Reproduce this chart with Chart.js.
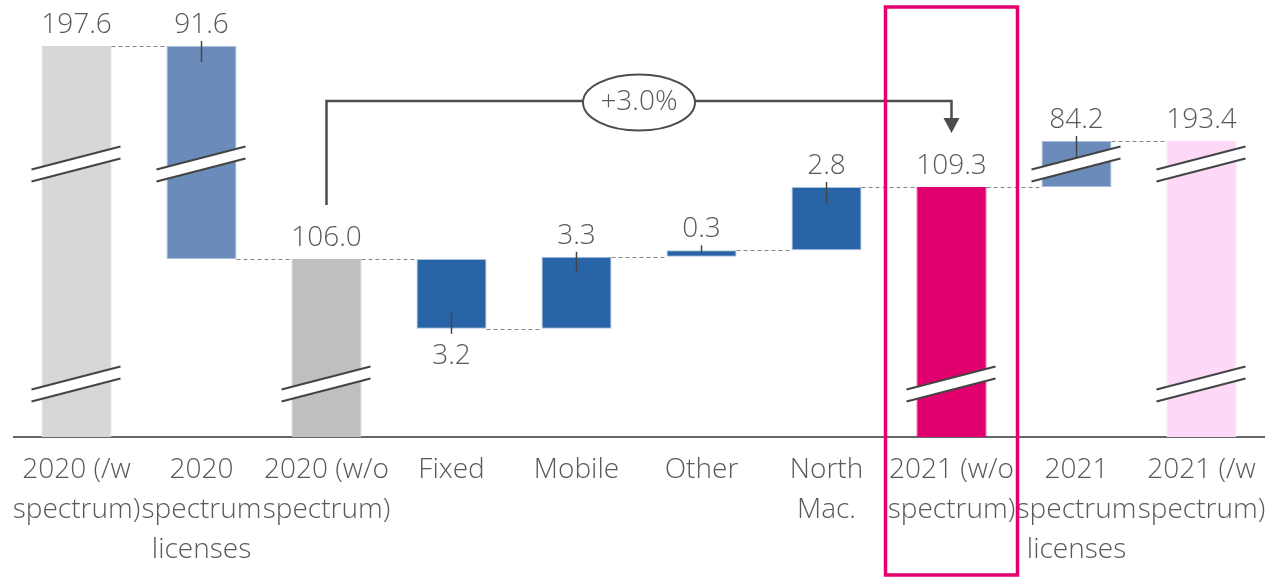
<!DOCTYPE html>
<html>
<head>
<meta charset="utf-8">
<script src="https://cdn.jsdelivr.net/npm/chart.js@4"></script>
<style>
  html, body { margin: 0; padding: 0; background: #fff; }
  #wrap { width: 1266px; height: 579px; }
</style>
</head>
<body>
<div id="wrap"><canvas id="myChart"></canvas></div>
<script>
const categories = [
  ["2020 (/w", "spectrum)"],
  ["2020", "spectrum", "licenses"],
  ["2020 (w/o", "spectrum)"],
  "Fixed",
  "Mobile",
  "Other",
  ["North", "Mac."],
  ["2021 (w/o", "spectrum)"],
  ["2021", "spectrum", "licenses"],
  ["2021 (/w", "spectrum)"],
];
const valueLabels = ["197.6", "91.6", "106.0", "3.2", "3.3", "0.3", "2.8", "109.3", "84.2", "193.4"];
// axis is cut: big bars are shown truncated between the break marks
const axisFloor = 97.84;
const barStart = [axisFloor, 106.0, axisFloor, 102.8, 102.8, 106.1, 106.4, axisFloor, 109.3, axisFloor];
const barEnd = [115.76, 115.76, 106.0, 106.0, 106.1, 106.4, 109.3, 109.3, 111.41, 111.41];
const isDelta = [false, true, false, true, true, true, true, false, true, false];
const labelBelow = [false, false, false, true, false, false, false, false, false, false];
const breaks = [[0, 110.35], [0, 100.27], [1, 110.35], [2, 100.27], [7, 100.27], [8, 110.35], [9, 110.35], [9, 100.27]];
const growthLabel = "+3.0%";

const colors = ["#d6d7d9", "#6b8cba", "#bfbfbf", "#2864a6", "#2864a6", "#2864a6", "#2864a6", "#e2006f", "#6b8cba", "#fdd9f7"];
const borders = ["#d6d7d9", "#a9bfdc", "#bfbfbf", "#a9c1de", "#a9c1de", "#a9c1de", "#a9c1de", "#e2006f", "#a9bfdc", "#fdd9f7"];
const textColor = "#595959";
const fontFamily = "'Open Sans', sans-serif";

const overlay = {
  id: "overlay",
  afterDatasetsDraw(chart) {
    const ctx = chart.ctx;
    const x = chart.scales.x, y = chart.scales.y;
    const meta = chart.getDatasetMeta(0);
    ctx.save();

    // dashed connectors
    ctx.strokeStyle = "#888";
    ctx.lineWidth = 1.2;
    ctx.setLineDash([4, 3]);
    for (let i = 0; i < categories.length - 1; i++) {
      const a = [barStart[i], barEnd[i]], b = [barStart[i + 1], barEnd[i + 1]];
      const level = a.find(v => b.includes(v));
      if (level === undefined) continue;
      const bi = meta.data[i], bj = meta.data[i + 1];
      const py = Math.round(y.getPixelForValue(level)) + 0.5;
      ctx.beginPath();
      ctx.moveTo(bi.x + bi.width / 2, py);
      ctx.lineTo(bj.x - bj.width / 2, py);
      ctx.stroke();
    }
    ctx.setLineDash([]);

    // break marks
    breaks.forEach(([i, v]) => {
      const bar = meta.data[i];
      const x0 = bar.x - bar.width / 2 - 10, x1 = bar.x + bar.width / 2 + 9;
      const yc = y.getPixelForValue(v);
      const rise = 23, gap = 6;
      ctx.fillStyle = "#fff";
      ctx.beginPath();
      ctx.moveTo(x0, yc - gap + rise / 2);
      ctx.lineTo(x1, yc - gap - rise / 2);
      ctx.lineTo(x1, yc + gap - rise / 2);
      ctx.lineTo(x0, yc + gap + rise / 2);
      ctx.closePath();
      ctx.fill();
      ctx.strokeStyle = "#444";
      ctx.lineWidth = 2;
      [-gap, gap].forEach(off => {
        ctx.beginPath();
        ctx.moveTo(x0, yc + off + rise / 2);
        ctx.lineTo(x1, yc + off - rise / 2);
        ctx.stroke();
      });
    });

    // value labels and ticks
    ctx.font = "300 28px " + fontFamily;
    ctx.fillStyle = textColor;
    ctx.textAlign = "center";
    ctx.textBaseline = "alphabetic";
    meta.data.forEach((bar, i) => {
      const top = y.getPixelForValue(barEnd[i]);
      const bottom = y.getPixelForValue(barStart[i]);
      const h = bottom - top;
      if (labelBelow[i]) {
        ctx.fillText(valueLabels[i], bar.x, bottom + 35);
      } else {
        ctx.fillText(valueLabels[i], bar.x, top - 13);
      }
      if (isDelta[i]) {
        ctx.strokeStyle = "#444";
        ctx.lineWidth = 1.5;
        const inner = Math.min(16, h / 2);
        ctx.beginPath();
        if (labelBelow[i]) {
          ctx.moveTo(bar.x, bottom + 5);
          ctx.lineTo(bar.x, bottom - inner);
        } else {
          ctx.moveTo(bar.x, top - 5);
          ctx.lineTo(bar.x, top + inner);
        }
        ctx.stroke();
      }
    });

    // growth arrow from 2020 (w/o) to 2021 (w/o)
    const xa = x.getPixelForValue(2), xb = x.getPixelForValue(7);
    const ya = y.getPixelForValue(barEnd[2]) - 54;
    const yb = y.getPixelForValue(barEnd[7]) - 54;
    const yh = 101;
    ctx.strokeStyle = "#4d4d4d";
    ctx.fillStyle = "#4d4d4d";
    ctx.lineWidth = 2.5;
    ctx.beginPath();
    ctx.moveTo(xa, ya);
    ctx.lineTo(xa, yh);
    ctx.lineTo(xb, yh);
    ctx.lineTo(xb, yb - 15);
    ctx.stroke();
    ctx.beginPath();
    ctx.moveTo(xb - 8, yb - 15);
    ctx.lineTo(xb + 8, yb - 15);
    ctx.lineTo(xb, yb);
    ctx.closePath();
    ctx.fill();

    const xm = (xa + xb) / 2;
    ctx.beginPath();
    ctx.ellipse(xm, yh + 1.5, 56, 28, 0, 0, Math.PI * 2);
    ctx.fillStyle = "#fff";
    ctx.fill();
    ctx.lineWidth = 2;
    ctx.stroke();
    ctx.fillStyle = textColor;
    ctx.textBaseline = "middle";
    ctx.fillText(growthLabel, xm, yh + 1);

    ctx.restore();
  },
  afterDraw(chart) {
    const ctx = chart.ctx;
    const cx = chart.scales.x.getPixelForValue(7);
    ctx.save();
    ctx.strokeStyle = "#e2006f";
    ctx.lineWidth = 3.5;
    ctx.strokeRect(cx - 66, 7, 132, 568);
    ctx.restore();
  }
};

const ctx = document.getElementById("myChart");
new Chart(ctx, {
  type: "bar",
  data: {
    labels: categories,
    datasets: [
      {
        data: barStart.map((s, i) => [s, barEnd[i]]),
        backgroundColor: colors,
        borderColor: borders,
        borderWidth: 1,
        borderSkipped: false,
        barPercentage: 0.56,
        categoryPercentage: 1,
      },
    ],
  },
  options: {
    responsive: true,
    maintainAspectRatio: false,
    animation: false,
    layout: { padding: { left: 14, right: 2, top: 0, bottom: 0 } },
    plugins: {
      legend: { display: false },
      tooltip: { enabled: false },
    },
    scales: {
      x: {
        grid: { display: false },
        border: { display: true, color: "#666", width: 2 },
        ticks: {
          color: textColor,
          font: { family: fontFamily, size: 28, weight: 300, lineHeight: 40 / 28 },
          padding: 5,
          maxRotation: 0,
          autoSkip: false,
        },
        afterFit(scale) {
          scale.height = 142;
          scale.paddingLeft = 0;
          scale.paddingRight = 0;
        },
      },
      y: {
        display: false,
        min: axisFloor,
        max: 117.87,
      },
    },
  },
  plugins: [overlay],
});
</script>
</body>
</html>
